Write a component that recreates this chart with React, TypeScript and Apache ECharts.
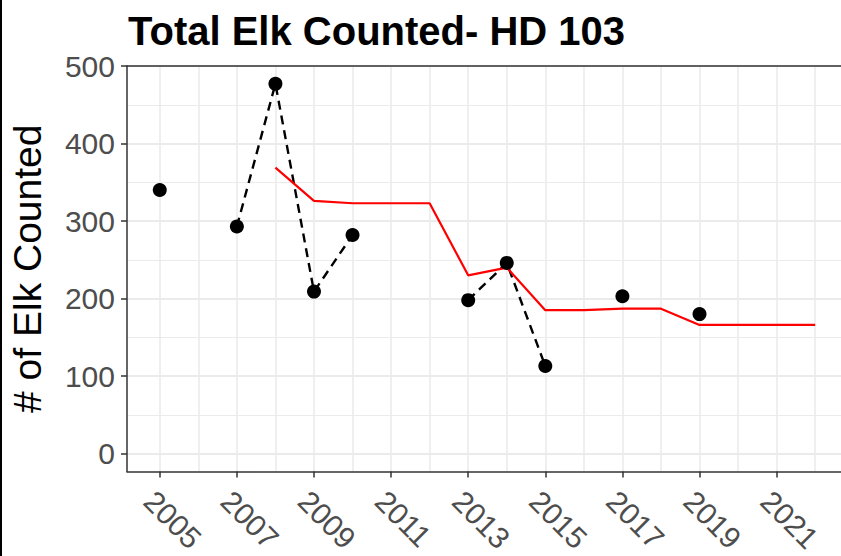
import React, { useEffect, useRef } from "react";
import * as echarts from "echarts";

const titleText = "Total Elk Counted- HD 103";
const yAxisTitle = "# of Elk Counted";

// Observed counts
const countYears = [2005, 2007, 2008, 2009, 2010, 2013, 2014, 2015, 2017, 2019];
const countValues = [340, 293, 477, 209, 282, 198, 246, 113, 203, 180];

// Red trend line
const trendYears = [2008, 2009, 2010, 2011, 2012, 2013, 2014, 2015, 2016, 2017, 2018, 2019, 2020, 2021, 2022];
const trendValues = [369, 326, 323, 323, 323, 230, 240, 185, 185, 187, 187, 166, 166, 166, 166];

// Tick labels
const xTickYears = [2005, 2007, 2009, 2011, 2013, 2015, 2017, 2019, 2021];
const yTickValues = [0, 100, 200, 300, 400, 500];
const xGridYears = [2005, 2006, 2007, 2008, 2009, 2010, 2011, 2012, 2013, 2014, 2015, 2016, 2017, 2018, 2019, 2020, 2021, 2022];
const yMinorValues = [50, 150, 250, 350, 450];

const FONT = "'Liberation Sans', Arial, Helvetica, sans-serif";

function consecutiveGroups(years: number[], values: number[]) {
  const groups: number[][][] = [];
  let cur: number[][] = [];
  for (let i = 0; i < years.length; i++) {
    if (cur.length && years[i] - years[i - 1] === 1) {
      cur.push([years[i], values[i]]);
    } else {
      if (cur.length > 1) groups.push(cur);
      cur = [[years[i], values[i]]];
    }
  }
  if (cur.length > 1) groups.push(cur);
  return groups;
}

export default function App() {
  const ref = useRef<HTMLDivElement>(null);
  useEffect(() => {
    document.body.style.margin = "0";
    const chart = echarts.init(ref.current!, undefined, { renderer: "svg" });
    const groups = consecutiveGroups(countYears, countValues);
    const gridLines: any[] = [];
    xGridYears.forEach((y) => gridLines.push({ xAxis: y, lineStyle: { width: 1.6 } }));
    yTickValues.forEach((v) => gridLines.push({ yAxis: v, lineStyle: { width: 1.8 } }));
    yMinorValues.forEach((v) => gridLines.push({ yAxis: v, lineStyle: { width: 1.1 } }));

    const option: any = {
      animation: false,
      backgroundColor: "#ffffff",
      title: {
        text: titleText,
        left: 123,
        top: 6,
        textStyle: { fontFamily: FONT, fontSize: 40, fontWeight: "bold", color: "#000000" },
      },
      grid: { left: 125, right: 0, top: 66, bottom: 82, containLabel: false },
      xAxis: [
        {
          type: "value",
          position: "bottom",
          z: 3,
          min: 2004.15,
          max: 2022.67,
          axisLine: { show: true, onZero: false, lineStyle: { color: "#333333", width: 1.5 } },
          axisTick: { show: true, length: 6, customValues: xTickYears, lineStyle: { color: "#333333", width: 1.5 } },
          axisLabel: {
            customValues: xTickYears,
            rotate: -45,
            margin: 14,
            verticalAlign: "top",
            fontFamily: FONT,
            fontSize: 30,
            color: "#4D4D4D",
            formatter: (v: number) => String(v),
          },
          splitLine: { show: false },
        },
        {
          type: "value",
          position: "top",
          z: 3,
          min: 2004.15,
          max: 2022.67,
          axisLine: { show: true, onZero: false, lineStyle: { color: "#333333", width: 1.5 } },
          axisTick: { show: false },
          axisLabel: { show: false },
          splitLine: { show: false },
        },
      ],
      yAxis: {
        type: "value",
        z: 3,
        min: -23,
        max: 500,
        name: yAxisTitle,
        nameLocation: "middle",
        nameGap: 80,
        nameTextStyle: { fontFamily: FONT, fontSize: 39, color: "#000000" },
        axisLine: { show: true, onZero: false, lineStyle: { color: "#333333", width: 1.5 } },
        axisTick: { show: true, length: 6, customValues: yTickValues, lineStyle: { color: "#333333", width: 1.5 } },
        axisLabel: {
          customValues: yTickValues,
          margin: 12,
          fontFamily: FONT,
          fontSize: 30,
          color: "#4D4D4D",
        },
        splitLine: { show: false },
      },
      graphic: [
        { type: "rect", left: 0, top: 0, shape: { width: 2, height: 556 }, style: { fill: "#000000" } },
      ],
      series: [
        {
          type: "line",
          data: [],
          z: 1,
          silent: true,
          markLine: {
            z: 1,
            silent: true,
            symbol: ["none", "none"],
            label: { show: false },
            lineStyle: { color: "#EBEBEB", type: "solid", width: 1.5 },
            data: gridLines,
          },
        },
        ...groups.map((g) => ({
          type: "line",
          data: g,
          showSymbol: false,
          z: 4,
          lineStyle: { color: "#000000", width: 2.4, type: [9, 6] },
        })),
        {
          type: "line",
          data: trendYears.map((y, i) => [y, trendValues[i]]),
          showSymbol: false,
          z: 5,
          lineStyle: { color: "#FF0000", width: 2.2 },
        },
        {
          type: "scatter",
          data: countYears.map((y, i) => [y, countValues[i]]),
          symbolSize: 14,
          z: 6,
          itemStyle: { color: "#000000", opacity: 1, borderWidth: 0 },
        },
      ],
    };
    chart.setOption(option);
    return () => chart.dispose();
  }, []);
  return <div ref={ref} style={{ width: 841, height: 556 }} />;
}
